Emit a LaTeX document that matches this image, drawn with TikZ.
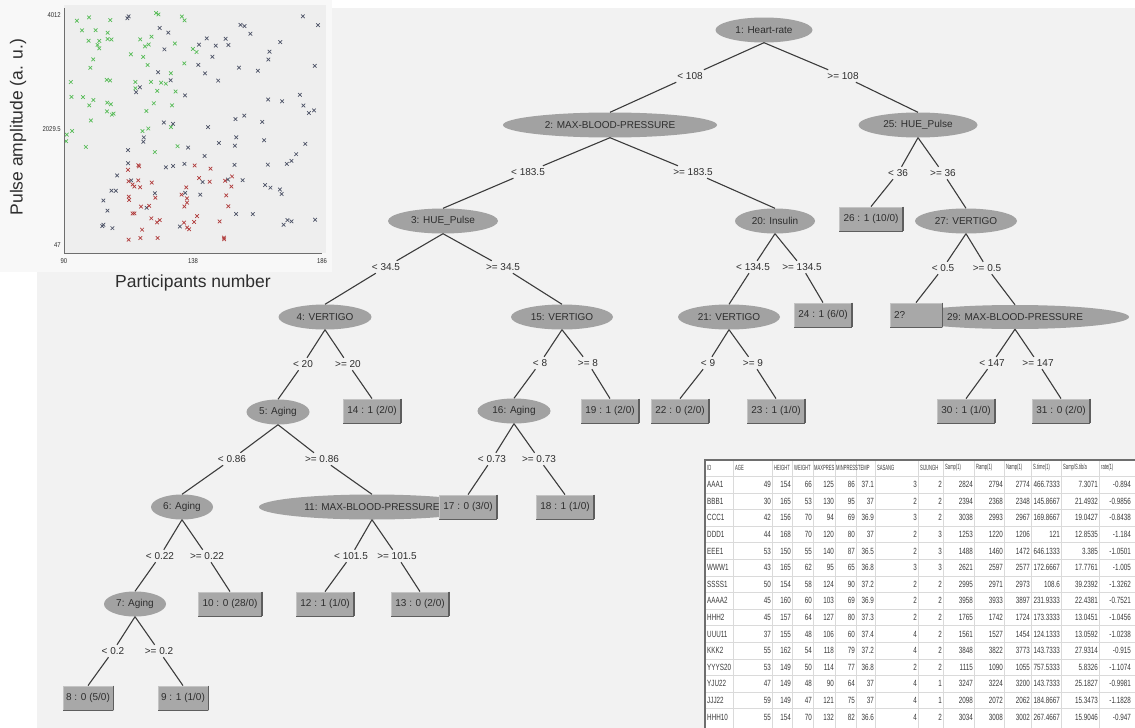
\documentclass[tikz,border=0pt]{standalone}
\usepackage{fontspec}
\setmainfont{Liberation Sans}
\newfontfamily\tabfont{Liberation Sans}[FakeStretch=0.7]
\newfontfamily\headfont{Liberation Sans}[FakeStretch=0.55]
\newfontfamily\tickfont{Liberation Sans}[FakeStretch=0.85]
\usepackage{tikz}
\usetikzlibrary{shapes.geometric}
\definecolor{treebg}{HTML}{F2F2F2}
\definecolor{plotbg}{HTML}{F8F8F8}
\definecolor{plotin}{HTML}{EEEEEE}
\definecolor{nodegray}{HTML}{A2A2A2}
\definecolor{leafgray}{HTML}{A8A8A8}
\definecolor{leaflight}{HTML}{C4C4C4}
\definecolor{leafdark}{HTML}{5E5E5E}
\definecolor{inkgray}{HTML}{2E2E2E}
\definecolor{linegray}{HTML}{3C3C3C}
\definecolor{ptgreen}{HTML}{55BB55}
\definecolor{ptdark}{HTML}{4C5266}
\definecolor{ptred}{HTML}{B03A3A}
\definecolor{gridgray}{HTML}{DADADA}
\definecolor{tabedge}{HTML}{6E6E6E}
\definecolor{tabink}{HTML}{3A3A3A}
\newcommand\treefont{\fontsize{10}{12}\selectfont}
\tikzset{
    split/.style={ellipse, fill=nodegray, inner sep=0pt, minimum height=25pt, text=inkgray, font=\treefont},
    leafshade/.style={draw=leafdark, line width=1.3pt},
    leaf/.style={rectangle, fill=leafgray, draw=leaflight, line width=0.8pt, inner sep=0pt,
        minimum width=57pt, minimum height=24pt, text=inkgray, font=\treefont,
        append after command={(\tikzlastnode.north east) edge[leafshade] (\tikzlastnode.south east)
            (\tikzlastnode.south east) edge[leafshade] (\tikzlastnode.south west)}},
    cond/.style={inner sep=2.5pt, text=inkgray, font=\treefont},
    branch/.style={draw=linegray, line width=1.1pt},
    ptmark/.style={line width=0.7pt},
    gridline/.style={draw=gridgray, line width=0.5pt},
    cell/.style={inner sep=0pt, text=tabink, font=\tabfont\fontsize{9}{10}\selectfont},
    headcell/.style={inner sep=0pt, text=tabink, font=\headfont\fontsize{7.5}{9}\selectfont},
    tick/.style={inner sep=0pt, text=inkgray, font=\tickfont\fontsize{7}{8}\selectfont},
}

\begin{document}
\begin{tikzpicture}[x=1pt,y=-1pt]
\useasboundingbox (0,0) rectangle (1135,728);
\fill[white] (0,0) rectangle (1135,728);
\fill[treebg] (37,8) rectangle (1135,728);
\fill[plotbg] (0,0) rectangle (332,272);
\fill[plotin] (64,5) rectangle (326,253);

\pgfmathsetseed{11}
\foreach \i in {1,...,62}{
    \pgfmathsetmacro{\px}{66+135*rnd}
    \pgfmathsetmacro{\py}{10+150*rnd}
    \draw[ptmark, ptgreen] (\px-1.8,\py-1.8) -- (\px+1.8,\py+1.8) (\px-1.8,\py+1.8) -- (\px+1.8,\py-1.8);
}
\foreach \i in {1,...,80}{
    \pgfmathsetmacro{\px}{125+195*rnd}
    \pgfmathsetmacro{\py}{15+215*rnd}
    \draw[ptmark, ptdark] (\px-1.8,\py-1.8) -- (\px+1.8,\py+1.8) (\px-1.8,\py+1.8) -- (\px+1.8,\py-1.8);
}
\foreach \i in {1,...,8}{
    \pgfmathsetmacro{\px}{95+25*rnd}
    \pgfmathsetmacro{\py}{175+70*rnd}
    \draw[ptmark, ptdark] (\px-1.8,\py-1.8) -- (\px+1.8,\py+1.8) (\px-1.8,\py+1.8) -- (\px+1.8,\py-1.8);
}
\foreach \i in {1,...,45}{
    \pgfmathsetmacro{\px}{128+105*rnd}
    \pgfmathsetmacro{\py}{165+75*rnd}
    \draw[ptmark, ptred] (\px-1.8,\py-1.8) -- (\px+1.8,\py+1.8) (\px-1.8,\py+1.8) -- (\px+1.8,\py-1.8);
}
\draw[tabedge, line width=0.8pt] (64,8) -- (64,253) -- (322,253);
\node[tick, anchor=east] (y1) at (61,15) {4012};
\node[tick, anchor=east] (y2) at (61,129) {2029.5};
\node[tick, anchor=east] (y3) at (61,245) {47};
\node[tick] (x1) at (64,261) {90};
\node[tick] (x2) at (193,261) {138};
\node[tick] (x3) at (322,261) {186};
\node[font=\fontsize{17.5}{20}\selectfont, text=inkgray, rotate=90] (ylab) at (18,127) {Pulse amplitude (a. u.)};
\node[font=\fontsize{17.5}{20}\selectfont, text=inkgray] (xlab) at (193,283) {Participants number};

\node[split, minimum width=97pt] (n1) at (764,30) {1: Heart-rate};
\node[split, minimum width=214pt] (n2) at (610,125) {2: MAX-BLOOD-PRESSURE};
\node[split, minimum width=119pt] (n25) at (918,125) {25: HUE\_Pulse};
\node[split, minimum width=110pt] (n3) at (443,221) {3: HUE\_Pulse};
\node[split, minimum width=80pt] (n20) at (775,221) {20: Insulin};
\node[leaf, minimum width=63pt] (l26) at (871,219) {26 : 1 (10/0)};
\node[split, minimum width=102pt] (n27) at (966,221) {27: VERTIGO};
\node[split, minimum width=93pt] (n4) at (325,317) {4: VERTIGO};
\node[split, minimum width=102pt] (n15) at (562,317) {15: VERTIGO};
\node[split, minimum width=102pt] (n21) at (729,317) {21: VERTIGO};
\node[leaf] (l24) at (823,315) {24 : 1 (6/0)};
\node[split, minimum width=228pt, minimum height=24pt] (n29) at (1015,317) {29: MAX-BLOOD-PRESSURE};
\node[leaf, minimum width=52pt, text width=44pt, align=left] (l28) at (916,315) {2?};
\node[split, minimum width=63pt] (n5) at (278,412) {5: Aging};
\node[leaf] (l14) at (372,411) {14 : 1 (2/0)};
\node[split, minimum width=73pt] (n16) at (514,411) {16: Aging};
\node[leaf] (l19) at (610,411) {19 : 1 (2/0)};
\node[leaf] (l22) at (680,411) {22 : 0 (2/0)};
\node[leaf] (l23) at (776,411) {23 : 1 (1/0)};
\node[leaf] (l30) at (966,411) {30 : 1 (1/0)};
\node[leaf] (l31) at (1061,411) {31 : 0 (2/0)};
\node[split, minimum width=62pt] (n6) at (182,507) {6: Aging};
\node[split, minimum width=226pt] (n11) at (372,507) {11: MAX-BLOOD-PRESSURE};
\node[leaf] (l17) at (468,507) {17 : 0 (3/0)};
\node[leaf] (l18) at (565,507) {18 : 1 (1/0)};
\node[split, minimum width=62pt] (n7) at (135,604) {7: Aging};
\node[leaf, minimum width=63pt] (l10) at (230,604) {10 : 0 (28/0)};
\node[leaf] (l12) at (325,604) {12 : 1 (1/0)};
\node[leaf] (l13) at (420,604) {13 : 0 (2/0)};
\node[leaf, minimum width=50pt] (l8) at (88,698) {8 : 0 (5/0)};
\node[leaf, minimum width=50pt] (l9) at (183,698) {9 : 1 (1/0)};

\node[cond] (c1a) at (690,76) {< 108};
\node[cond] (c1b) at (843,76) {>= 108};
\node[cond] (c2a) at (528,172) {< 183.5};
\node[cond] (c2b) at (693,172) {>= 183.5};
\node[cond] (c25a) at (898,173) {< 36};
\node[cond] (c25b) at (943,173) {>= 36};
\node[cond] (c3a) at (386,267) {< 34.5};
\node[cond] (c3b) at (503,267) {>= 34.5};
\node[cond] (c20a) at (753,267) {< 134.5};
\node[cond] (c20b) at (802,267) {>= 134.5};
\node[cond] (c27a) at (943,268) {< 0.5};
\node[cond] (c27b) at (987,268) {>= 0.5};
\node[cond] (c4a) at (303,364) {< 20};
\node[cond] (c4b) at (348,364) {>= 20};
\node[cond] (c15a) at (540,363) {< 8};
\node[cond] (c15b) at (588,363) {>= 8};
\node[cond] (c21a) at (708,363) {< 9};
\node[cond] (c21b) at (753,363) {>= 9};
\node[cond] (c29a) at (992,363) {< 147};
\node[cond] (c29b) at (1038,363) {>= 147};
\node[cond] (c5a) at (232,459) {< 0.86};
\node[cond] (c5b) at (322,459) {>= 0.86};
\node[cond] (c16a) at (492,459) {< 0.73};
\node[cond] (c16b) at (539,459) {>= 0.73};
\node[cond] (c6a) at (160,556) {< 0.22};
\node[cond] (c6b) at (207,556) {>= 0.22};
\node[cond] (c11a) at (351,556) {< 101.5};
\node[cond] (c11b) at (397,556) {>= 101.5};
\node[cond] (c7a) at (113,651) {< 0.2};
\node[cond] (c7b) at (159,651) {>= 0.2};

\foreach \p/\c/\k in {n1/c1a/n2, n1/c1b/n25, n2/c2a/n3, n2/c2b/n20, n25/c25a/l26, n25/c25b/n27,
    n3/c3a/n4, n3/c3b/n15, n20/c20a/n21, n20/c20b/l24, n27/c27a/l28, n27/c27b/n29,
    n4/c4a/n5, n4/c4b/l14, n15/c15a/n16, n15/c15b/l19, n21/c21a/l22, n21/c21b/l23,
    n29/c29a/l30, n29/c29b/l31, n5/c5a/n6, n5/c5b/n11, n16/c16a/l17, n16/c16b/l18,
    n6/c6a/n7, n6/c6b/l10, n11/c11a/l12, n11/c11b/l13, n7/c7a/l8, n7/c7b/l9}
    \draw[branch] (\p.south) -- (\c) (\c) -- (\k.north);

\fill[white] (705,460) rectangle (1135,728);
\foreach \k in {0,...,14}
    \draw[gridline] (705,{476.3+16.6*\k}) -- (1135,{476.3+16.6*\k});
\foreach \x in {733,772,792,813,835,856,875,918,943,974,1004,1031,1061,1099}
    \draw[gridline] (\x,460) -- (\x,728);
\draw[tabedge, line width=1.2pt] (705,728) -- (705,460) -- (1135,460);
\foreach \x/\t [count=\i] in {707/ID, 735/AGE, 774/HEIGHT, 794/WEIGHT, 814/MAXPRES,
    836/MINPRESS, 858/TEMP, 877/SASANG, 920/SIJUNGH, 945/Samp(1), 976/Ramp(1),
    1006/Namp(1), 1033/S.time(1), 1063/{Samp/S.tib/a}, 1101/rate(1)}
    \node[headcell, anchor=west] (h\i) at (\x,468) {\t};
\foreach \row [count=\r] in {
    {AAA1,49,154,66,125,86,37.1,3,2,2824,2794,2774,466.7333,7.3071,-0.894},
    {BBB1,30,165,53,130,95,37,2,2,2394,2368,2348,145.8667,21.4932,-0.9856},
    {CCC1,42,156,70,94,69,36.9,3,2,3038,2993,2967,169.8667,19.0427,-0.8438},
    {DDD1,44,168,70,120,80,37,2,3,1253,1220,1206,121,12.8535,-1.184},
    {EEE1,53,150,55,140,87,36.5,2,3,1488,1460,1472,646.1333,3.385,-1.0501},
    {WWW1,43,165,62,95,65,36.8,3,3,2621,2597,2577,172.6667,17.7761,-1.005},
    {SSSS1,50,154,58,124,90,37.2,2,2,2995,2971,2973,108.6,39.2392,-1.3262},
    {AAAA2,45,160,60,103,69,36.9,2,2,3958,3933,3897,231.9333,22.4381,-0.7521},
    {HHH2,45,157,64,127,80,37.3,2,2,1765,1742,1724,173.3333,13.0451,-1.0456},
    {UUU11,37,155,48,106,60,37.4,4,2,1561,1527,1454,124.1333,13.0592,-1.0238},
    {KKK2,55,162,54,118,79,37.2,4,2,3848,3822,3773,143.7333,27.9314,-0.915},
    {YYYS20,53,149,50,114,77,36.8,2,2,1115,1090,1055,757.5333,5.8326,-1.1074},
    {YJU22,47,149,48,90,64,37,4,1,3247,3224,3200,143.7333,25.1827,-0.9981},
    {JJJ22,59,149,47,121,75,37,4,1,2098,2072,2062,184.8667,15.3473,-1.1828},
    {HHH10,55,154,70,132,82,36.6,4,2,3034,3008,3002,267.4667,15.9046,-0.947}}{
    \foreach \v [count=\c] in \row {
        \pgfmathsetmacro{\yr}{468+16.6*\r}
        \ifnum\c=1
            \node[cell, anchor=west] (d\r-\c) at (707,\yr) {\v};
        \else
            \pgfmathsetmacro{\xr}{{733,771,791,812,834,855,874,917,942,973,1003,1030,1060,1098,1131}[\c-1]}
            \node[cell, anchor=east] (d\r-\c) at (\xr,\yr) {\v};
        \fi
    }
}
\end{tikzpicture}
\end{document}
